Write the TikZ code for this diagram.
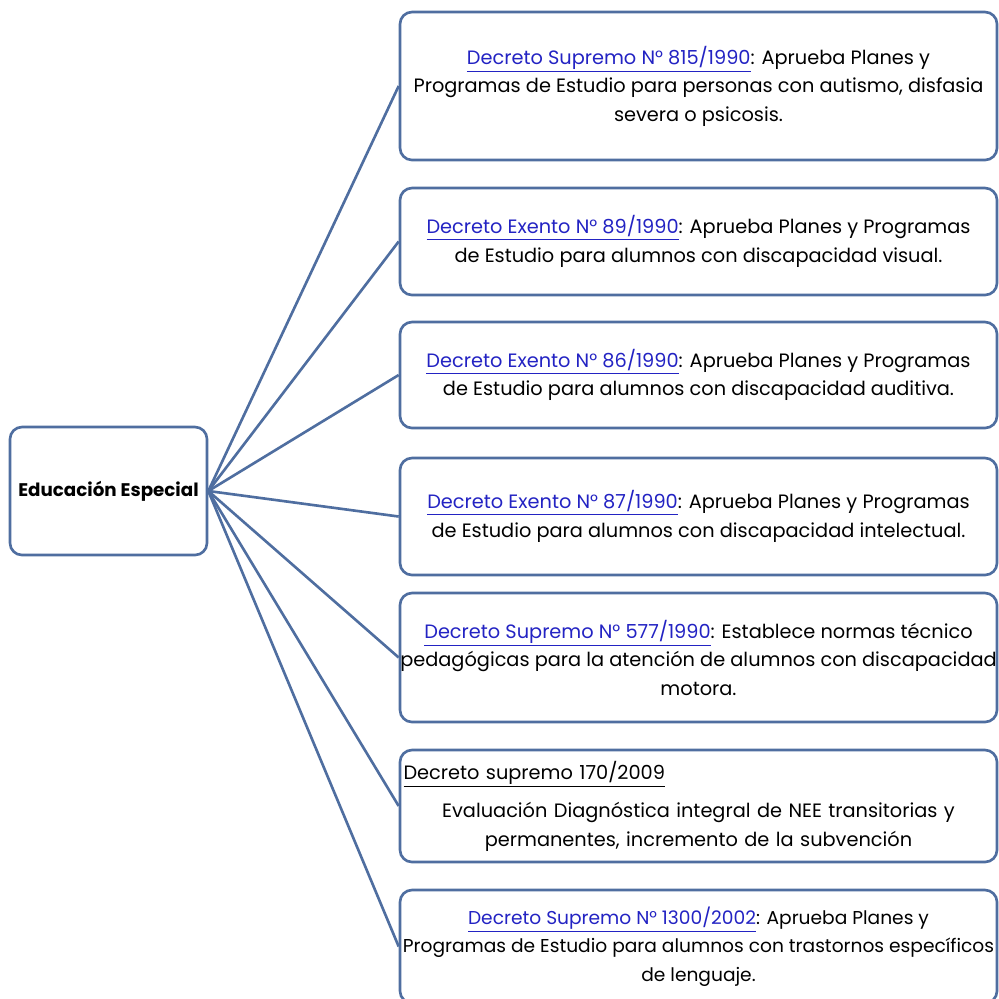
\documentclass[tikz,border=0pt]{standalone}
\usepackage{fontspec}
\setmainfont{Poppins}
\definecolor{linkblue}{RGB}{35,35,195}
\definecolor{edgeblue}{RGB}{79,110,160}
\newcommand{\lnk}[1]{{\color{linkblue}\underline{#1}}}

\begin{document}
\begin{tikzpicture}[font=\fontsize{11}{16.2}\selectfont,
  box/.style={draw=edgeblue, line width=1.5pt, rounded corners=0.24cm, fill=white,
    minimum width=11.94cm, align=center, inner sep=0pt},
  link/.style={draw=edgeblue, line width=1.5pt}]
  \useasboundingbox (0,0) rectangle (19.98,-19.96);
  \clip (0,0) rectangle (19.98,-19.96);

  \node[box, minimum width=3.94cm, minimum height=2.56cm, font=\fontsize{10.4}{16.2}\selectfont]
    (ee) at (2.17,-9.82) {\textbf{Educación Especial}};

  \node[box, minimum height=2.96cm] (b1) at (13.97,-1.72)
    {\lnk{Decreto Supremo N° 815/1990}: Aprueba Planes y\\
     Programas de Estudio para personas con autismo, disfasia\\
     severa o psicosis.};
  \node[box, minimum height=2.14cm] (b2) at (13.97,-4.83)
    {\lnk{Decreto Exento N° 89/1990}: Aprueba Planes y Programas\\
     de Estudio para alumnos con discapacidad visual.};
  \node[box, minimum height=2.12cm] (b3) at (13.97,-7.50)
    {\lnk{Decreto Exento N° 86/1990}: Aprueba Planes y Programas\\
     de Estudio para alumnos con discapacidad auditiva.};
  \node[box, minimum height=2.34cm] (b4) at (13.97,-10.33)
    {\lnk{Decreto Exento N° 87/1990}: Aprueba Planes y Programas\\
     de Estudio para alumnos con discapacidad intelectual.};
  \node[box, minimum height=2.58cm] (b5) at (13.97,-13.15)
    {\lnk{Decreto Supremo N° 577/1990}: Establece normas técnico\\
     pedagógicas para la atención de alumnos con discapacidad\\
     motora.};
  \node[box, minimum height=2.24cm, text width=11.8cm] (b6) at (13.97,-16.12)
    {\makebox[\linewidth][l]{\underline{Decreto supremo 170/2009}}\\[0.2cm]
     Evaluación Diagnóstica integral de NEE transitorias y\\
     permanentes, incremento de la subvención};
  \node[box, minimum height=2.26cm, font=\fontsize{10.6}{16.2}\selectfont] (b7) at (13.97,-18.93)
    {\lnk{Decreto Supremo N° 1300/2002}: Aprueba Planes y\\
     Programas de Estudio para alumnos con trastornos específicos\\
     de lenguaje.};

  \foreach \b in {b1,b2,b3,b4,b5,b6,b7}
    \draw[link] (ee.east) -- (\b.west);
\end{tikzpicture}
\end{document}
